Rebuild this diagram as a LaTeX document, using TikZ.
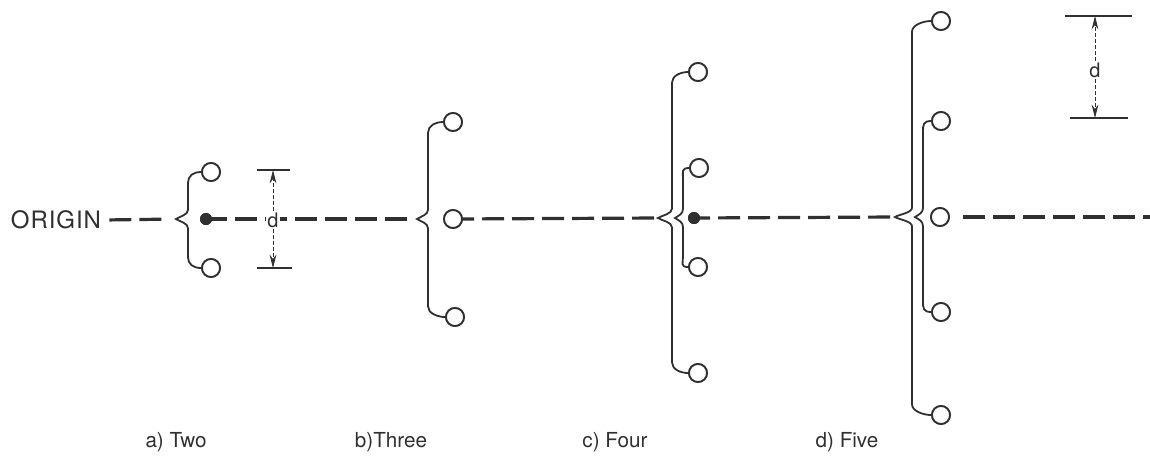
\documentclass[tikz,border=0pt]{standalone}
\usepackage{fontspec}
\setmainfont{TeX Gyre Heros}
\newfontfamily\widefont[LetterSpace=4]{TeX Gyre Heros}
\usetikzlibrary{arrows.meta,calc}
\definecolor{ink}{HTML}{303030}

% #1 upper ring, #2 lower ring, #3 tip of the brace, #4 spine offset from the tip
\newcommand\ringbrace[4]{%
  \draw[bracestroke] let \p1=(#1.west), \p2=(#3), \p3=(#2.west) in
    (\p1) .. controls +(-6pt,0) and +(0,5pt) .. (\x2+#4,\y1-8pt)
    -- (\x2+#4,\y2+7pt) .. controls +(0,-4pt) and +(3pt,2pt) .. (\p2)
    .. controls +(3pt,-2pt) and +(0,4pt) .. (\x2+#4,\y2-7pt)
    -- (\x2+#4,\y3+8pt) .. controls +(0,-5pt) and +(-6pt,0) .. (\p3);}

\begin{document}
\begin{tikzpicture}[x=0.75pt,y=-0.75pt,
  axis/.style={draw=ink,line width=2.4pt,dash pattern=on 16.5pt off 6pt},
  ring/.style={circle,draw=ink,line width=1.35pt,minimum size=13.5pt,inner sep=0pt,fill=white},
  dot/.style={circle,fill=ink,minimum size=9pt,inner sep=0pt},
  bracestroke/.style={draw=ink,line width=1.35pt},
  bar/.style={draw=ink,line width=1.5pt},
  dimarrow/.style={draw=ink,line width=0.6pt,dash pattern=on 3pt off 1.5pt,
    -{Stealth[length=10pt,width=5pt]}},
  dlabel/.style={font=\fontsize{15}{17}\selectfont,text=ink,fill=white,inner sep=1pt},
  caption/.style={font=\fontsize{15.5}{17}\selectfont,text=ink}]
\useasboundingbox (0,0) rectangle (1150,462);

% origin label
\node[anchor=west,inner sep=2pt,text=ink,font=\fontsize{18}{20}\selectfont\widefont] (origin) at (8,220) {ORIGIN};

% a) two elements
\node[ring] (a1) at (211,172) {};
\node[ring] (a2) at (211,268) {};
\node[dot]  (a0) at (206,219) {};
\coordinate (atip) at (176,219);

% b) three elements
\node[ring] (b1) at (453,122) {};
\node[ring] (b0) at (453,219) {};
\node[ring] (b2) at (455,317) {};
\coordinate (btip) at (417,219);

% c) four elements
\node[ring] (c1) at (698,72) {};
\node[ring] (c2) at (699,168) {};
\node[dot]  (c0) at (694,218) {};
\node[ring] (c3) at (698,267) {};
\node[ring] (c4) at (698,373) {};
\coordinate (ctip) at (658,218);
\coordinate (ctipin) at (675,218);

% d) five elements
\node[ring] (d1) at (941,21) {};
\node[ring] (d2) at (941,121) {};
\node[ring] (d0) at (940,217) {};
\node[ring] (d3) at (941,312) {};
\node[ring] (d4) at (941,415) {};
\coordinate (dtip) at (895,217);
\coordinate (dtipin) at (915,217);
\coordinate (rend) at (1150,217);

% dashed axis; each stretch starts at an element centre (hidden under it)
% and its phase makes the last dash stop just short of the next brace
\draw[axis,shorten <=4pt,shorten >=8.25pt] (origin.east) -- (atip);
\draw[axis,dash phase=0.75pt,shorten >=7.5pt] (a0.center) -- (btip);
\draw[axis,dash phase=0.75pt,shorten >=3pt] (b0.center) -- (ctip);
\draw[axis,dash phase=4.5pt,shorten >=3.75pt] (c0.center) -- (dtip);
\draw[axis,shorten <=17.25pt] (d0.center) -- (rend);

% rings and dots above the axis
\foreach \n in {a1,a2,b1,b0,b2,c1,c2,c3,c4,d1,d2,d0,d3,d4}{
  \draw[ring] (\n.center) circle[radius=6.75pt];}
\fill[ink] (a0.center) circle[radius=4.5pt];
\fill[ink] (c0.center) circle[radius=4.5pt];

% braces
\ringbrace{a1}{a2}{atip}{9pt}
\ringbrace{b1}{b2}{btip}{8.25pt}
\ringbrace{c1}{c4}{ctip}{10.5pt}
\ringbrace{c2}{c3}{ctipin}{6pt}
\ringbrace{d1}{d4}{dtip}{12.75pt}
\ringbrace{d2}{d3}{dtipin}{6pt}

% spacing dimension beside a)
\coordinate (ea1) at (257,170); \coordinate (ea2) at (290,170);
\coordinate (eb1) at (257,268); \coordinate (eb2) at (292,268);
\draw[bar] (ea1) -- (ea2);
\draw[bar] (eb1) -- (eb2);
\node[dlabel] (da) at (273,220) {d};
\draw[dimarrow] (da.north) -- (da.north |- ea1);
\draw[dimarrow] (da.south) -- (da.south |- eb1);

% spacing dimension, upper right
\coordinate (fa1) at (1065,16); \coordinate (fa2) at (1132,16);
\coordinate (fb1) at (1070,118); \coordinate (fb2) at (1128,118);
\draw[bar] (fa1) -- (fa2);
\draw[bar] (fb1) -- (fb2);
\node[dlabel] (dd) at (1095,70) {d};
\draw[dimarrow] (dd.north) -- (dd.north |- fa1);
\draw[dimarrow] (dd.south) -- (dd.south |- fb1);

% captions
\node[caption] (capa) at (176,442) {a) Two};
\node[caption] (capb) at (391,442) {b)Three};
\node[caption] (capc) at (615,442) {c) Four};
\node[caption] (capd) at (847,442) {d) Five};
\end{tikzpicture}
\end{document}
